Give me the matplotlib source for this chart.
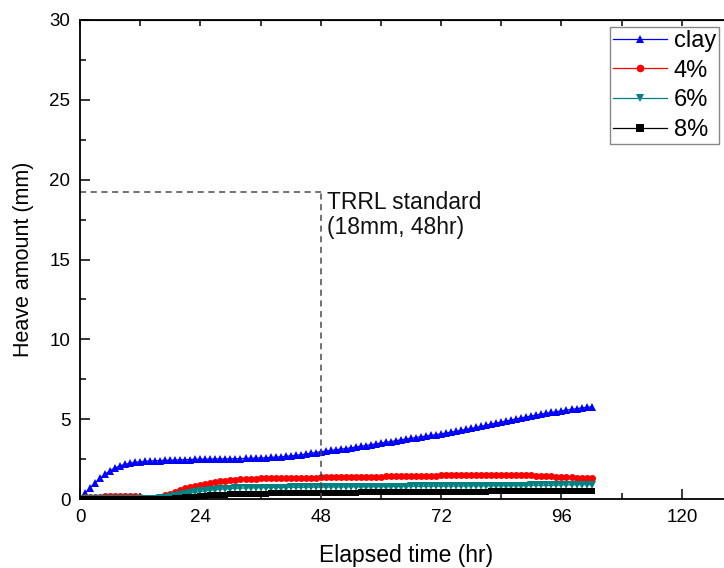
import matplotlib
matplotlib.use("Agg")
import matplotlib.pyplot as plt
import numpy as np

plt.rcParams['font.family'] = ['Liberation Sans', 'DejaVu Sans']

# elapsed time (hr), one reading per hour
time_hr = list(range(0, 103))

clay = [0.00, 0.35, 0.70, 1.00, 1.30, 1.55, 1.78, 1.95, 2.08, 2.17,
        2.24, 2.29, 2.33, 2.36, 2.38, 2.40, 2.41, 2.42, 2.43, 2.44,
        2.45, 2.46, 2.47, 2.48, 2.49, 2.49, 2.50, 2.50, 2.51, 2.51,
        2.52, 2.52, 2.53, 2.54, 2.55, 2.56, 2.57, 2.58, 2.60, 2.62,
        2.64, 2.67, 2.70, 2.73, 2.77, 2.81, 2.86, 2.91, 2.96, 3.00,
        3.04, 3.08, 3.12, 3.16, 3.20, 3.25, 3.30, 3.35, 3.40, 3.45,
        3.50, 3.55, 3.60, 3.65, 3.70, 3.75, 3.80, 3.85, 3.90, 3.94,
        3.98, 4.03, 4.08, 4.13, 4.19, 4.24, 4.30, 4.36, 4.42, 4.48,
        4.55, 4.62, 4.69, 4.75, 4.82, 4.88, 4.95, 5.01, 5.08, 5.14,
        5.20, 5.26, 5.32, 5.37, 5.42, 5.47, 5.52, 5.57, 5.61, 5.66,
        5.70, 5.74, 5.78]

pct4 = [0.05, 0.10, 0.12, 0.14, 0.15, 0.16, 0.17, 0.18, 0.20, 0.20,
        0.20, 0.18, 0.14, 0.08, 0.04, 0.05, 0.12, 0.22, 0.33, 0.45,
        0.56, 0.66, 0.75, 0.83, 0.90, 0.96, 1.02, 1.07, 1.11, 1.15,
        1.18, 1.21, 1.23, 1.25, 1.27, 1.28, 1.29, 1.30, 1.31, 1.31,
        1.32, 1.32, 1.33, 1.33, 1.33, 1.34, 1.34, 1.34, 1.35, 1.35,
        1.35, 1.36, 1.36, 1.37, 1.37, 1.38, 1.38, 1.39, 1.39, 1.40,
        1.40, 1.41, 1.41, 1.42, 1.42, 1.43, 1.44, 1.44, 1.45, 1.46,
        1.46, 1.47, 1.48, 1.48, 1.49, 1.49, 1.50, 1.50, 1.51, 1.51,
        1.52, 1.52, 1.52, 1.52, 1.52, 1.52, 1.51, 1.51, 1.50, 1.49,
        1.48, 1.47, 1.45, 1.44, 1.42, 1.40, 1.38, 1.37, 1.35, 1.34,
        1.33, 1.32, 1.32]

pct6 = [0.00, 0.01, 0.01, 0.01, 0.01, 0.01, 0.01, 0.01, 0.01, 0.01,
        0.01, 0.01, 0.01, 0.01, 0.01, 0.02, 0.04, 0.08, 0.13, 0.19,
        0.25, 0.31, 0.37, 0.42, 0.47, 0.51, 0.55, 0.58, 0.61, 0.63,
        0.65, 0.67, 0.68, 0.69, 0.70, 0.70, 0.71, 0.71, 0.71, 0.72,
        0.72, 0.72, 0.73, 0.73, 0.73, 0.73, 0.74, 0.74, 0.74, 0.74,
        0.75, 0.75, 0.75, 0.75, 0.76, 0.76, 0.76, 0.76, 0.77, 0.77,
        0.77, 0.77, 0.78, 0.78, 0.78, 0.78, 0.79, 0.79, 0.79, 0.79,
        0.80, 0.80, 0.80, 0.80, 0.81, 0.81, 0.81, 0.81, 0.82, 0.82,
        0.82, 0.82, 0.83, 0.83, 0.83, 0.83, 0.84, 0.84, 0.84, 0.84,
        0.85, 0.85, 0.85, 0.85, 0.86, 0.86, 0.89, 0.89, 0.89, 0.90,
        0.90, 0.90, 0.90]

pct8 = [0.00, 0.00, 0.00, 0.00, 0.00, 0.00, 0.00, 0.00, 0.00, 0.00,
        0.00, 0.00, 0.00, 0.00, 0.00, 0.00, 0.00, 0.01, 0.03, 0.05,
        0.08, 0.10, 0.13, 0.15, 0.18, 0.20, 0.22, 0.24, 0.26, 0.28,
        0.29, 0.30, 0.31, 0.32, 0.33, 0.33, 0.34, 0.34, 0.35, 0.35,
        0.36, 0.36, 0.36, 0.37, 0.37, 0.37, 0.38, 0.38, 0.39, 0.39,
        0.39, 0.39, 0.40, 0.40, 0.40, 0.40, 0.41, 0.41, 0.41, 0.41,
        0.42, 0.42, 0.42, 0.42, 0.43, 0.43, 0.43, 0.43, 0.44, 0.44,
        0.44, 0.44, 0.45, 0.45, 0.45, 0.45, 0.45, 0.46, 0.46, 0.46,
        0.46, 0.46, 0.47, 0.47, 0.47, 0.47, 0.47, 0.48, 0.48, 0.48,
        0.48, 0.48, 0.49, 0.49, 0.49, 0.49, 0.49, 0.50, 0.50, 0.50,
        0.50, 0.50, 0.50]

series_labels = ['clay', '4%', '6%', '8%']
standard_time = 48
standard_heave = 19.2
x_ticks = [0, 24, 48, 72, 96, 120]
y_ticks = [0, 5, 10, 15, 20, 25, 30]

fig = plt.figure(figsize=(7.24, 5.68), dpi=100)
ax = fig.add_axes([80/724, 1-499/568, 652/724, 479/568])

styles = [
    dict(color='#0000ff', marker='^', ms=6.3),
    dict(color='#ff0000', marker='o', ms=5.0),
    dict(color='#008080', marker='v', ms=6.0),
    dict(color='#000000', marker='s', ms=4.6),
]
handles = []
for vals, lab, st in zip([clay, pct4, pct6, pct8], series_labels, styles):
    ax.plot(time_hr, vals, color=st['color'], marker=st['marker'],
            markersize=st['ms'], markeredgewidth=0, lw=0.9)
    h, = ax.plot([], [], color=st['color'], marker=st['marker'],
                 markersize=5.5, markeredgewidth=0, lw=0.9, label=lab)
    handles.append(h)

ax.plot([0, standard_time], [standard_heave, standard_heave], ls=(0, (4, 3)),
        color='#4a4a4a', lw=1.1)
ax.plot([standard_time, standard_time], [0, standard_heave], ls=(0, (4, 3)),
        color='#4a4a4a', lw=1.1)
ax.text(49.3, 19.3, 'TRRL standard\n(18mm, 48hr)', fontsize=16.5, va='top',
        ha='left', linespacing=1.12, color='#111111')

ax.set_xlim(0, 130)
ax.set_ylim(0, 30)
ax.set_xticks(x_ticks)
ax.set_xticks(np.arange(0, 131, 12), minor=True)
ax.set_yticks(y_ticks)
ax.set_yticks(np.arange(0, 30.1, 2.5), minor=True)
ax.tick_params(which='major', direction='in', length=7, width=1.1,
               labelsize=13.5, pad=7)
ax.tick_params(which='minor', direction='in', length=4, width=1.1)
for s in ax.spines.values():
    s.set_linewidth(1.3)

top = ax.secondary_xaxis('top')
top.set_xticks(np.arange(0, 131, 12))
top.tick_params(direction='in', length=4, width=1.1, labeltop=False)
right = ax.secondary_yaxis('right')
right.set_yticks(np.arange(0, 30.1, 2.5))
right.tick_params(direction='in', length=4, width=1.1, labelright=False)

ax.set_xlabel('Elapsed time (hr)', fontsize=16.5, labelpad=13)
ax.set_ylabel('Heave amount (mm)', fontsize=15.5, labelpad=11)

leg = ax.legend(handles=handles, loc='upper right',
                bbox_to_anchor=(719/724, 1-27/568),
                bbox_transform=fig.transFigure, fontsize=17, frameon=True,
                fancybox=False, edgecolor='#888888', framealpha=1,
                handlelength=2.3, handletextpad=0.3, borderpad=0.12,
                labelspacing=0.33, borderaxespad=0)
leg.get_frame().set_linewidth(1.0)

fig.savefig('out.png', dpi=100)
